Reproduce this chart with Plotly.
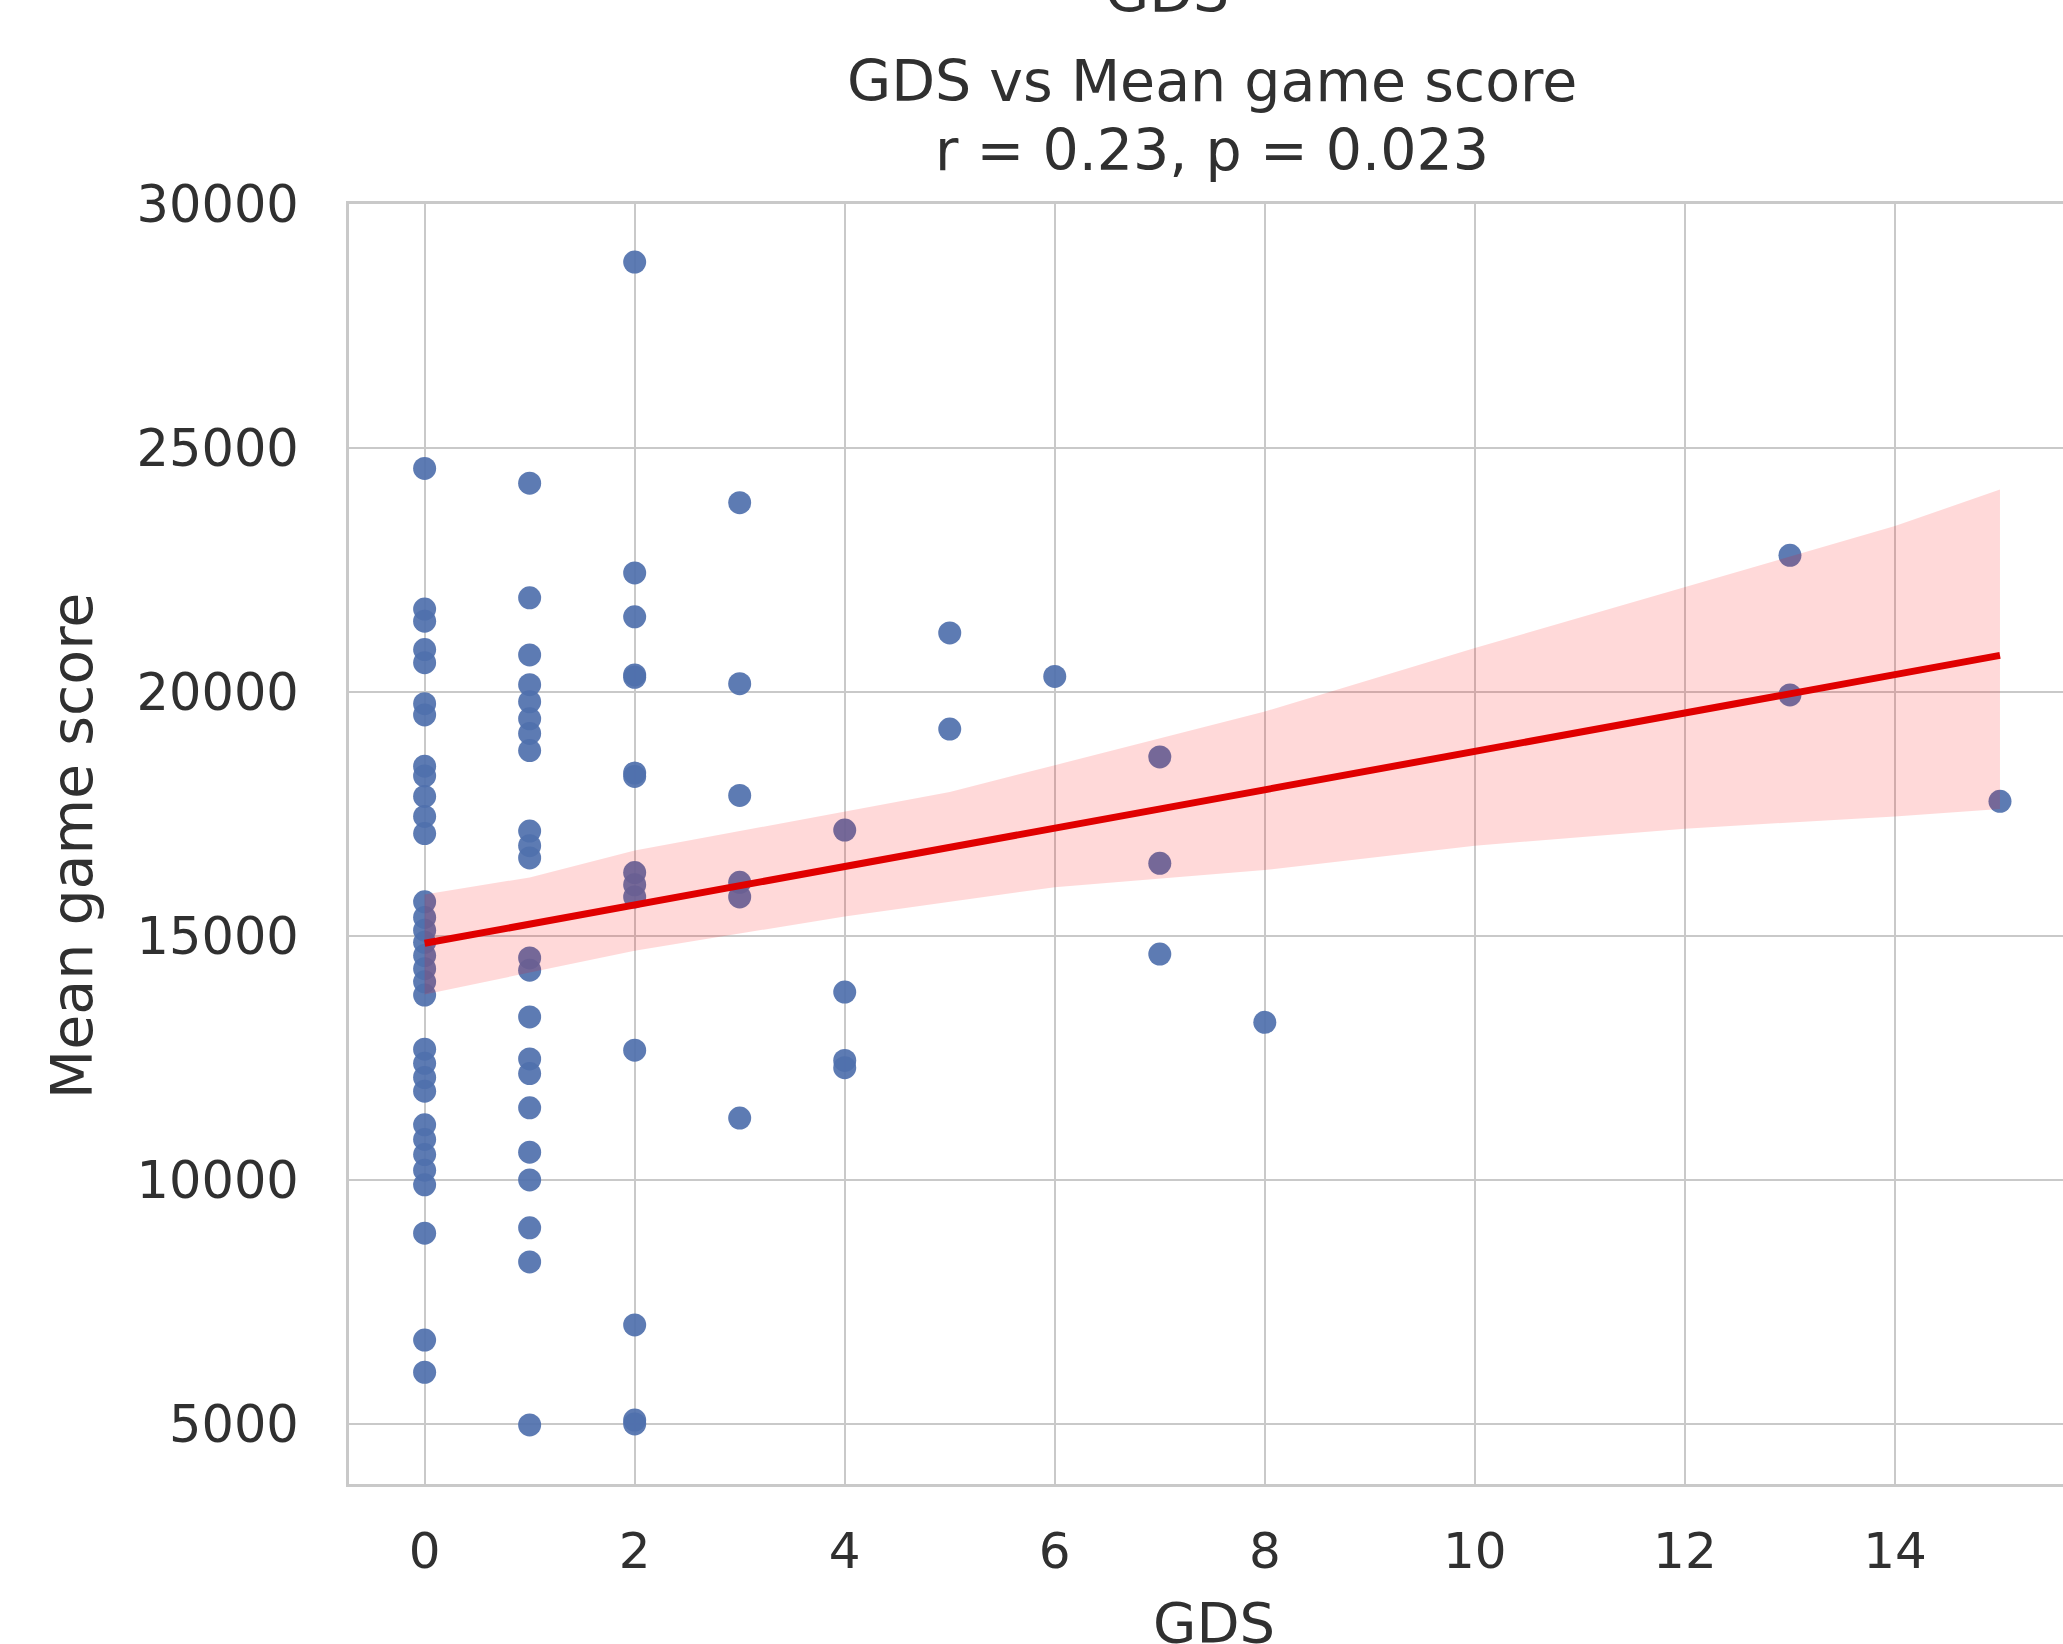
import plotly.graph_objects as go

# ---- data ----
score_gds0 = [24580, 21700, 21450, 20870, 20600, 19760, 19530, 18480, 18280, 17860, 17450, 17100,
              15700, 15380, 15120, 14870, 14600, 14330, 14060, 13790, 12680, 12390, 12100, 11820,
              11130, 10830, 10520, 10200, 9900, 8910, 6720, 6060]
score_gds1 = [24280, 21930, 20760, 20150, 19800, 19450, 19150, 18800, 17150, 16850, 16600,
              14550, 14300, 13340, 12480, 12180, 11480, 10570, 10000, 9020, 8320, 4980]
score_gds2 = [28810, 22440, 21540, 20350, 20300, 18340, 18270, 16300, 16050, 15800, 12660, 7030, 5080, 5000]
score_gds3 = [23880, 20170, 17880, 16100, 15800, 11270]
score_gds4 = [17170, 13850, 12450, 12300]
score_gds5 = [21210, 19240]
score_gds6 = [20320]
score_gds7 = [18670, 16490, 14630]
score_gds8 = [13230]
score_gds13 = [22800, 19940]
score_gds15 = [17760]

gds_levels = [0, 1, 2, 3, 4, 5, 6, 7, 8, 13, 15]
score_groups = [score_gds0, score_gds1, score_gds2, score_gds3, score_gds4, score_gds5,
                score_gds6, score_gds7, score_gds8, score_gds13, score_gds15]

# regression line and confidence band
fit_x = [0, 15]
fit_y = [14850, 20750]
band_x = [0, 1, 2, 4, 5, 6, 8, 10, 12, 14, 15]
band_hi = [15850, 16200, 16750, 17550, 17950, 18500, 19600, 20900, 22150, 23400, 24150]
band_lo = [13800, 14250, 14700, 15400, 15700, 16000, 16350, 16850, 17200, 17450, 17600]

x_ticks = [0, 2, 4, 6, 8, 10, 12, 14]
y_ticks = [5000, 10000, 15000, 20000, 25000, 30000]
y_tick_text = ["5000", "10000", "15000", "20000", "25000", "30000"]

title_line1 = "GDS vs Mean game score"
title_line2 = "r = 0.23, p = 0.023"
suptitle = "GDS"
x_label = "GDS"
y_label = "Mean game score"

# ---- build ----
xs, ys = [], []
for g, grp in zip(gds_levels, score_groups):
    xs += [g] * len(grp)
    ys += grp

W, H = 2063, 1644
L, R, T, B = 349, 0, 204, 160
FONT = "DejaVu Sans"
TXT = "#303030"
GRID = "#c9c9c9"

fig = go.Figure()
fig.add_trace(go.Scatter(x=xs, y=ys, mode="markers",
                         marker=dict(size=23, color="#4F70AC", opacity=0.92, line=dict(width=0)),
                         showlegend=False, hoverinfo="skip"))
fig.add_trace(go.Scatter(x=band_x + band_x[::-1], y=band_hi + band_lo[::-1], mode="lines",
                         fill="toself", fillcolor="rgba(255,0,0,0.15)", line=dict(width=0),
                         showlegend=False, hoverinfo="skip"))
fig.add_trace(go.Scatter(x=fit_x, y=fit_y, mode="lines", line=dict(color="#e00000", width=7),
                         showlegend=False, hoverinfo="skip"))

pw = W - L - R
ph = H - T - B

def px_x(p):
    return (p - L) / pw

def px_y(p):
    return (H - B - p) / ph

fig.update_layout(
    width=W, height=H,
    margin=dict(l=L, r=R, t=T, b=B, pad=0),
    paper_bgcolor="white", plot_bgcolor="white",
    font=dict(family=FONT, color=TXT, size=50),
    xaxis=dict(range=[-0.72, 15.6], tickvals=x_ticks, showgrid=True, gridcolor=GRID, gridwidth=2,
               zeroline=False, showline=True, linecolor=GRID, linewidth=3, mirror=True,
               ticks="", tickfont=dict(size=50, family=FONT, color=TXT), ticklabelstandoff=21),
    yaxis=dict(range=[3770, 30000], tickvals=y_ticks, ticktext=y_tick_text, showgrid=True,
               gridcolor=GRID, gridwidth=2,
               zeroline=False, showline=True, linecolor=GRID, linewidth=3, mirror=False,
               ticks="", tickfont=dict(size=51, family=FONT, color=TXT), ticklabelstandoff=37),
)

ann = [
    dict(text=title_line1, x=px_x(1212), y=px_y(81), font=dict(size=57)),
    dict(text=title_line2, x=px_x(1212), y=px_y(150), font=dict(size=57)),
    dict(text=suptitle, x=px_x(1167), y=px_y(-8), font=dict(size=57)),
    dict(text=x_label, x=px_x(1214), y=px_y(1622), font=dict(size=56)),
    dict(text=y_label, x=px_x(72), y=px_y(846), font=dict(size=57), textangle=-90),
]
for a in ann:
    fig.add_annotation(xref="paper", yref="paper", showarrow=False, xanchor="center",
                       yanchor="middle", font_family=FONT, font_color=TXT, **a)

fig.write_html("out.html", config={"displayModeBar": False},
               post_script="document.body.style.margin='0';document.body.style.overflow='hidden';")
